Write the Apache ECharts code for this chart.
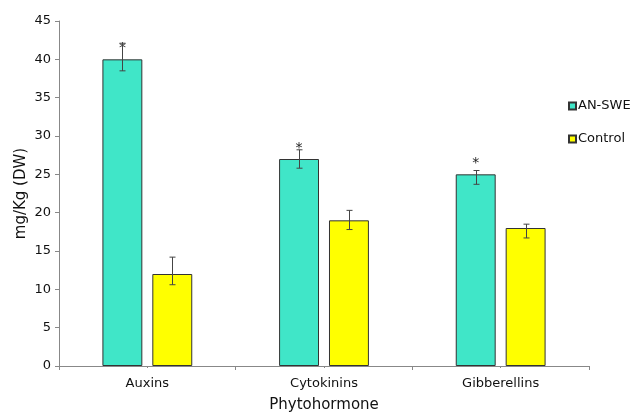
<!DOCTYPE html>
<html><head><meta charset="utf-8">
<script src="https://cdn.jsdelivr.net/npm/echarts@6/dist/echarts.min.js"></script>
<style>html,body{margin:0;padding:0;background:#fff;overflow:hidden}#c{width:634px;height:412px}</style>
</head><body><div id="c"></div>
<script>
const categories = ['Auxins', 'Cytokinins', 'Gibberellins'];
const seriesNames = ['AN-SWE', 'Control'];
const anSwe = [40, 27, 25];
const anSweErrUp = [2.1, 1.2, 0.5];
const anSweErrDown = [1.5, 1.2, 1.3];
const control = [12, 19, 18];
const controlErrUp = [2.2, 1.3, 0.5];
const controlErrDown = [1.4, 1.2, 1.3];
const significance = ['*', '*', '*'];
const yTicks = [0, 5, 10, 15, 20, 25, 30, 35, 40, 45];

const FONT = 'DejaVu Sans';
const BAR_FRAC = 0.226, GAP_FRAC = 0.25;

function errSeries(vals, up, down, idx) {
  return {
    type: 'custom', name: seriesNames[idx] + '-err', z: 10, silent: true,
    data: vals.map((v, i) => [i, v - down[i], v + up[i]]),
    renderItem: function (params, api) {
      const band = api.size([1, 0])[0];
      const bw = band * BAR_FRAC;
      const off = (bw + bw * GAP_FRAC) / 2 * (idx === 0 ? -1 : 1);
      const lo = api.coord([api.value(0), api.value(1)]);
      const hi = api.coord([api.value(0), api.value(2)]);
      const x = Math.round(lo[0] + off) + 0.5;
      const cap = 3;
      const st = { stroke: '#444', lineWidth: 1 };
      return { type: 'group', children: [
        { type: 'line', shape: { x1: x, y1: hi[1], x2: x, y2: lo[1] }, style: st },
        { type: 'line', shape: { x1: x - cap, y1: hi[1], x2: x + cap, y2: hi[1] }, style: st },
        { type: 'line', shape: { x1: x - cap, y1: lo[1], x2: x + cap, y2: lo[1] }, style: st }
      ]};
    }
  };
}

const chart = echarts.init(document.getElementById('c'), null, { renderer: 'canvas' });
chart.setOption({
  animation: false,
  textStyle: { fontFamily: FONT },
  grid: { left: 59, right: 45, top: 21, bottom: 46, containLabel: false, outerBoundsMode: 'none' },
  legend: {
    data: seriesNames, orient: 'vertical', left: 563, top: 94,
    icon: 'rect', itemWidth: 7, itemHeight: 7, itemGap: 19,
    textStyle: { fontFamily: FONT, fontSize: 13, lineHeight: 14, color: '#111', padding: [0, 0, 0, -3] }
  },
  xAxis: [{
    type: 'category', data: categories, boundaryGap: true,
    axisLine: { lineStyle: { color: '#888', width: 1 } },
    axisTick: { show: true, length: 4, lineStyle: { color: '#888' } },
    axisLabel: { fontFamily: FONT, fontSize: 13, color: '#111', margin: 11 },
    name: 'Phytohormone', nameLocation: 'middle', nameGap: 32, nameMoveOverlap: false,
    nameTextStyle: { fontFamily: FONT, fontSize: 15, color: '#111' }
  }, {
    type: 'category', data: categories, position: 'bottom',
    axisLine: { show: false },
    axisTick: { show: true, alignWithLabel: true, length: 2, lineStyle: { color: '#888' } },
    axisLabel: { show: false }
  }],
  yAxis: {
    type: 'value', min: yTicks[0], max: yTicks[yTicks.length - 1], interval: 5,
    splitLine: { show: false },
    axisLine: { show: true, lineStyle: { color: '#888', width: 1 } },
    axisTick: { show: true, length: 4, lineStyle: { color: '#888' } },
    axisLabel: { fontFamily: FONT, fontSize: 13, color: '#111', margin: 8 },
    name: 'mg/Kg (DW)', nameLocation: 'middle', nameGap: 30, nameRotate: 90, nameMoveOverlap: false,
    nameTextStyle: { fontFamily: FONT, fontSize: 15, color: '#111' }
  },
  series: [{
    type: 'bar', name: seriesNames[0], data: anSwe,
    barWidth: (BAR_FRAC * 100) + '%', barGap: (GAP_FRAC * 100) + '%',
    itemStyle: { color: '#40E6C8', borderColor: '#333', borderWidth: 1 },
    label: { show: true, position: 'top', distance: 4, fontFamily: FONT, fontSize: 14, color: '#222',
      formatter: p => significance[p.dataIndex] }
  }, {
    type: 'bar', name: seriesNames[1], data: control,
    barWidth: (BAR_FRAC * 100) + '%', barGap: (GAP_FRAC * 100) + '%',
    itemStyle: { color: '#FFFF00', borderColor: '#333', borderWidth: 1 }
  },
  errSeries(anSwe, anSweErrUp, anSweErrDown, 0),
  errSeries(control, controlErrUp, controlErrDown, 1)]
});
</script></body></html>
